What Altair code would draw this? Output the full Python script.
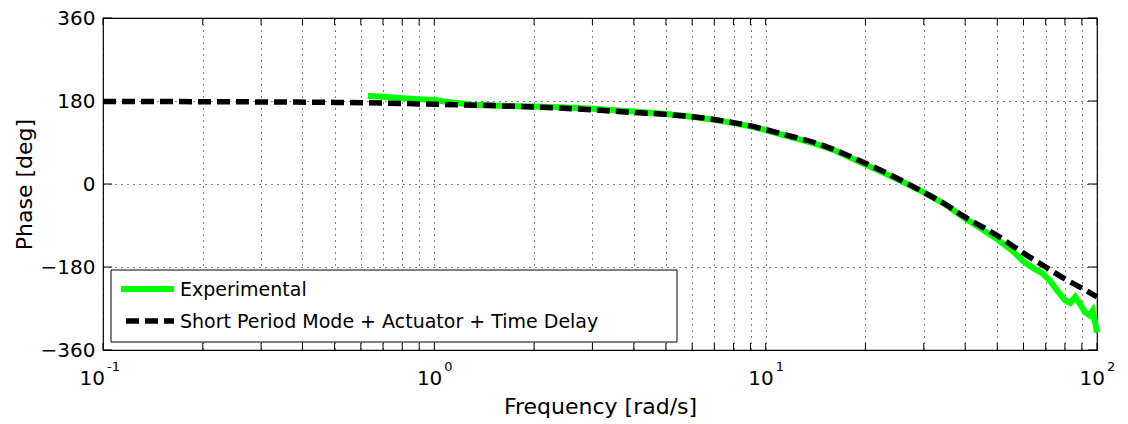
import altair as alt
import pandas as pd

FONT = "DejaVu Sans"
W, H = 994, 332

series_names = ["Experimental", "Short Period Mode + Actuator + Time Delay"]

model_freq = [0.1, 0.2, 0.3, 0.5, 0.7, 1.0, 1.5, 2, 3, 4, 5, 6, 7, 8, 9, 10,
              12, 14, 16, 20, 25, 30, 35, 40, 50, 60, 70, 80, 90, 100]
model_phase = [179, 178.5, 178, 177, 175.5, 173, 170, 167, 161, 155, 151, 146,
               140, 133, 126, 118, 103, 90, 75, 45, 12, -18, -45, -72, -112,
               -150, -180, -206, -226, -245]

exp_freq = [0.63, 0.7, 0.8, 0.9, 1.0, 1.1, 1.3, 1.5, 2, 2.5, 3, 3.5, 4, 5, 6,
            7, 8, 9, 10, 12, 14, 16, 20, 25, 30, 35, 40, 45, 50, 55, 60, 65,
            68, 72, 76, 80, 83, 86, 88, 92, 95, 97, 98, 99, 100]
exp_phase = [191, 189, 186, 184, 182, 178, 172, 170, 168, 166, 163, 160, 157,
             152, 146, 139, 132, 125, 117, 101, 88, 74, 42, 10, -18, -45, -75,
             -98, -120, -142, -168, -185, -192, -209, -232, -252, -258, -245,
             -255, -278, -285, -275, -290, -305, -322]

x_major = [0.1, 1, 10, 100]
x_exp = ["-1", "0", "1", "2"]
x_grid = [0.1, 0.2, 0.3, 0.4, 0.5, 0.6, 0.7, 0.8, 0.9,
          1, 2, 3, 4, 5, 6, 7, 8, 9,
          10, 20, 30, 40, 50, 60, 70, 80, 90, 100]
y_ticks = [-360, -180, 0, 180, 360]

xscale = alt.Scale(type="log", domain=[0.1, 100], nice=False)
yscale = alt.Scale(domain=[-360, 360], nice=False, zero=False)

exp_df = pd.DataFrame({"freq": exp_freq, "phase": exp_phase})
mod_df = pd.DataFrame({"freq": model_freq, "phase": model_phase})

x_axis = alt.Axis(values=x_grid, grid=True, labels=False, ticks=False, domain=False,
                  title="Frequency [rad/s]", titleFont=FONT, titleFontSize=22,
                  titleFontWeight="normal", titleColor="black", titleX=W / 2, titleY=56,
                  titleBaseline="middle", titleAlign="center",
                  gridColor="black", gridDash=[1, 5], gridWidth=1, gridOpacity=1)
y_axis = alt.Axis(values=y_ticks, grid=True, ticks=False, domain=False,
                  labelFont=FONT, labelFontSize=20, labelColor="black", labelPadding=8,
                  title="Phase [deg]", titleFont=FONT, titleFontSize=22,
                  titleFontWeight="normal", titleColor="black", titleAngle=270,
                  titleX=-79, titleY=H / 2, titleBaseline="middle", titleAlign="center",
                  gridColor="black", gridDash=[1, 5], gridWidth=1, gridOpacity=1)


def XF(field):
    return alt.X(field, type="quantitative", scale=xscale, axis=x_axis)


def YF(field):
    return alt.Y(field, type="quantitative", scale=yscale, axis=y_axis)


exp_line = alt.Chart(exp_df).mark_line(color="#00ff00", strokeWidth=6).encode(
    x=XF("freq"), y=YF("phase"))
mod_line = alt.Chart(mod_df).mark_line(color="black", strokeWidth=5.5, strokeDash=[13, 6],
                                       interpolate="monotone").encode(
    x=XF("freq"), y=YF("phase"))

xt = pd.DataFrame({"freq": x_grid})
yt = pd.DataFrame({"phase": y_ticks})
bt = alt.Chart(xt).mark_rule(color="black", strokeWidth=1).encode(
    x=XF("freq"), y=alt.value(H), y2=alt.value(H - 7))
tt = alt.Chart(xt).mark_rule(color="black", strokeWidth=1).encode(
    x=XF("freq"), y=alt.value(0), y2=alt.value(7))
lt = alt.Chart(yt).mark_rule(color="black", strokeWidth=1).encode(
    y=YF("phase"), x=alt.value(0), x2=alt.value(9))
rt = alt.Chart(yt).mark_rule(color="black", strokeWidth=1).encode(
    y=YF("phase"), x=alt.value(W), x2=alt.value(W - 9))

lab = pd.DataFrame({"freq": x_major, "e": x_exp})
base_main = alt.Chart(lab).transform_filter(alt.datum.e != "-1").mark_text(
    text="10", align="right", baseline="middle", dx=8, dy=29, fontSize=20, font=FONT,
    color="black").encode(x=XF("freq"), y=alt.value(H))
base_neg = alt.Chart(lab).transform_filter(alt.datum.e == "-1").mark_text(
    text="10", align="right", baseline="middle", dx=2, dy=29, fontSize=20, font=FONT,
    color="black").encode(x=XF("freq"), y=alt.value(H))
exp_main = alt.Chart(lab).transform_filter(alt.datum.e != "-1").mark_text(
    align="left", baseline="middle", dx=10, dy=17, fontSize=13, font=FONT,
    color="black").encode(x=XF("freq"), y=alt.value(H), text="e:N")
exp_neg = alt.Chart(lab).transform_filter(alt.datum.e == "-1").mark_text(
    align="left", baseline="middle", dx=4, dy=17, fontSize=13, font=FONT,
    color="black").encode(x=XF("freq"), y=alt.value(H), text="e:N")

one = pd.DataFrame({"k": [0]})
leg_box = alt.Chart(one).mark_rect(fill="white", stroke="black", strokeWidth=1).encode(
    x=alt.value(8), x2=alt.value(574), y=alt.value(252), y2=alt.value(324))
leg_g = alt.Chart(one).mark_rule(color="#00ff00", strokeWidth=6).encode(
    x=alt.value(18), x2=alt.value(71), y=alt.value(271))
leg_k = alt.Chart(one).mark_rule(color="black", strokeWidth=5.5, strokeDash=[13, 6]).encode(
    x=alt.value(23), x2=alt.value(71), y=alt.value(303))
leg_t1 = alt.Chart(one).mark_text(align="left", baseline="middle", fontSize=19, font=FONT,
                                  color="black").encode(
    x=alt.value(77), y=alt.value(272), text=alt.value(series_names[0]))
leg_t2 = alt.Chart(one).mark_text(align="left", baseline="middle", fontSize=19, font=FONT,
                                  color="black").encode(
    x=alt.value(77), y=alt.value(304), text=alt.value(series_names[1]))

chart = alt.layer(
    exp_line, mod_line, leg_box, leg_g, leg_k, leg_t1, leg_t2,
    bt, tt, lt, rt, base_main, base_neg, exp_main, exp_neg,
).properties(
    width=W, height=H,
    autosize=alt.AutoSizeParams(type="none"),
    padding={"left": 103, "top": 18, "right": 31, "bottom": 74},
    background="white",
).configure_view(stroke="black", strokeWidth=1.2)

chart.save("out.html", embed_options={"renderer": "svg", "actions": False})
